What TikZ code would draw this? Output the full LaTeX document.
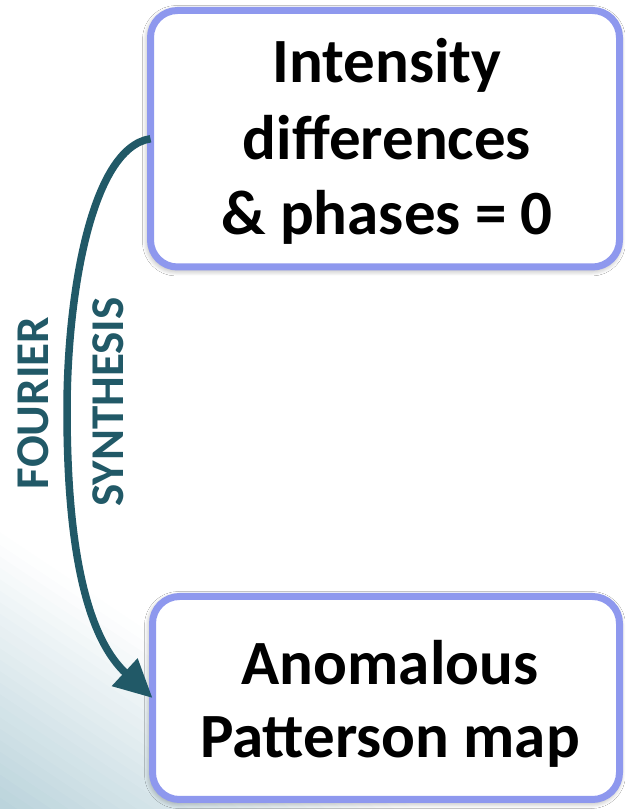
\documentclass[tikz,border=0pt]{standalone}
\usepackage{fontspec}
\setmainfont{Carlito}
\usetikzlibrary{arrows.meta,shadows.blur}
\definecolor{lav}{RGB}{142,152,238}
\definecolor{tealc}{RGB}{33,89,103}
\definecolor{tint}{RGB}{186,211,219}
\begin{document}
\begin{tikzpicture}[x=1pt,y=1pt,
  box/.style={draw=lav, line width=7pt, fill=white, rounded corners=27pt,
    outer sep=0pt, inner sep=0pt,
    blur shadow={shadow xshift=-1pt, shadow yshift=-2pt, shadow blur radius=7pt, shadow opacity=45, shadow blur steps=12}},
  boxtext/.style={font=\bfseries\fontsize{63}{75}\selectfont, anchor=base, inner sep=0pt},
  lbl/.style={font=\bfseries\fontsize{47}{50}\selectfont, text=tealc, rotate=90, anchor=base, inner sep=0pt},
  flow/.style={draw=tealc, line width=7.5pt, -{Triangle[length=38pt,width=36pt]}}]
\useasboundingbox (0,0) rectangle (625,809);
\fill[white] (0,0) rectangle (625,809);
\begin{scope}
  \clip (0,0) rectangle (625,809);
  \foreach \i in {0,...,23} {
    \pgfmathsetmacro\pa{\i*229/24}
    \pgfmathsetmacro\pb{(\i+1)*229/24+0.6}
    \pgfmathsetmacro\pc{100-100*(\i+0.5)/24}
    \fill[tint!\pc!white, rotate=56.2] (\pa,-700) rectangle (\pb,700);
  }
\end{scope}
% boxes
\node[box, minimum width=469pt, minimum height=256.5pt] (top) at (385,670.25) {};
\node[box, minimum width=467pt, minimum height=203pt] (bot) at (386,111) {};
% texts
\node[boxtext] (t1) at (387,726) {Intensity};
\node[boxtext] (t2) at (387,649) {differences};
\node[boxtext] (t3) at (387,574) {\& phases = 0};
\node[boxtext] (b1) at (390,124) {Anomalous};
\node[boxtext] (b2) at (390,51) {Patterson map};
% labels
\node[lbl] (l1) at (48,406) {FOURIER};
\node[lbl] (l2) at (123,407) {SYNTHESIS};
% arrow
\draw[flow] (top.west) .. controls (90,661) and (67,509) .. (67,399)
  .. controls (67,249) and (90,169) .. (bot.west);
\end{tikzpicture}
\end{document}
